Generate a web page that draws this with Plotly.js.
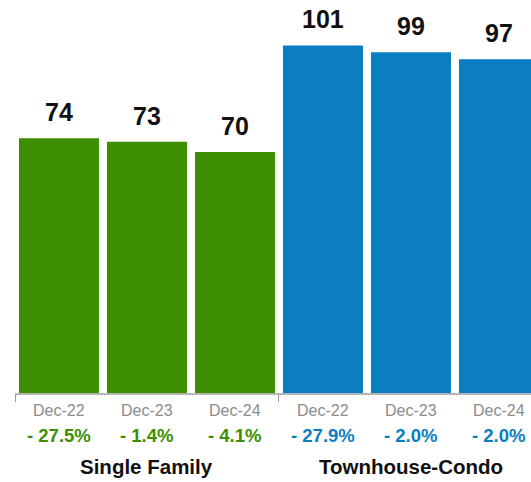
<!DOCTYPE html>
<html>
<head>
<meta charset="utf-8">
<script src="https://cdn.plot.ly/plotly-3.0.1.min.js"></script>
<style>html,body{margin:0;padding:0;background:#fff;}#chart{width:531px;height:482px;}</style>
</head>
<body>
<div id="chart"></div>
<script>
const groups = ['Single Family', 'Townhouse-Condo'];
const periods = ['Dec-22', 'Dec-23', 'Dec-24'];
const singleFamily = [74, 73, 70];
const townhouseCondo = [101, 99, 97];
const changesSingle = ['- 27.5%', '- 1.4%', '- 4.1%'];
const changesTownhouse = ['- 27.9%', '- 2.0%', '- 2.0%'];
const colors = ['#3d8e00', '#0b7ec1'];

const seriesValues = [singleFamily, townhouseCondo];
const seriesChanges = [changesSingle, changesTownhouse];
const FONT = 'Liberation Sans, Arial, Helvetica, sans-serif';

const traces = [];
const annotations = [];
seriesValues.forEach((vals, g) => {
  const xs = vals.map((v, i) => g * periods.length + i);
  traces.push({
    type: 'bar', x: xs, y: vals, width: 0.909,
    marker: {color: colors[g]}, name: groups[g],
    hoverinfo: 'none'
  });
  vals.forEach((v, i) => {
    annotations.push({x: xs[i], y: v, xref: 'x', yref: 'y', text: '<b>' + v + '</b>',
      showarrow: false, yanchor: 'bottom', yshift: 10,
      font: {family: FONT, size: 25, color: '#111'}});
    annotations.push({x: xs[i], y: 0, xref: 'x', yref: 'paper', text: periods[i],
      showarrow: false, yanchor: 'middle', yshift: -17,
      font: {family: FONT, size: 16, color: '#8c8c8c'}});
    annotations.push({x: xs[i], y: 0, xref: 'x', yref: 'paper', text: '<b>' + seriesChanges[g][i] + '</b>',
      showarrow: false, yanchor: 'middle', yshift: -42,
      font: {family: FONT, size: 18.5, color: colors[g]}});
  });
  annotations.push({x: xs[1], y: 0, xref: 'x', yref: 'paper', text: '<b>' + groups[g] + '</b>',
    showarrow: false, yanchor: 'middle', yshift: -73,
    font: {family: FONT, size: 20.5, color: '#111'}});
});

const layout = {
  width: 531, height: 482,
  margin: {l: 15, r: 0, t: 0, b: 89},
  paper_bgcolor: '#fff', plot_bgcolor: '#fff',
  showlegend: false,
  xaxis: {range: [-0.5, 5.364], tickvals: [-0.5, 2.5], showticklabels: false,
    ticks: 'outside', ticklen: 7, tickwidth: 1, tickcolor: '#999',
    showline: true, linecolor: '#b5b5b5', linewidth: 2, showgrid: false, zeroline: false, fixedrange: true},
  yaxis: {range: [0, 114.2], visible: false, showgrid: false, zeroline: false, fixedrange: true},
  annotations: annotations
};

Plotly.newPlot('chart', traces, layout, {displayModeBar: false, staticPlot: true});
</script>
</body>
</html>
